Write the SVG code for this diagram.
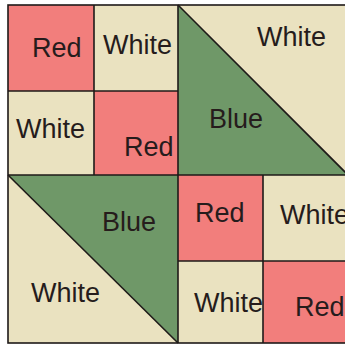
<svg xmlns="http://www.w3.org/2000/svg" width="345" height="345" viewBox="0 0 345 345">
<style>
.r{fill:#F27E7C}
.w{fill:#EAE2C0}
.g{fill:#6F9868}
.ln{stroke:#1e1a18;stroke-width:1.6;fill:none}
text{font-family:"Liberation Sans",Arial,sans-serif;font-size:27px;fill:#261c1c}
</style>
<rect width="345" height="345" fill="#ffffff"/>
<g id="tl-red1"><rect class="r" x="8" y="5" width="86" height="86"/><text x="32" y="57">Red</text></g>
<g id="tl-white1"><rect class="w" x="94" y="5" width="84" height="86"/><text x="103" y="54">White</text></g>
<g id="tl-white2"><rect class="w" x="8" y="91" width="86" height="84"/><text x="16" y="138">White</text></g>
<g id="tl-red2"><rect class="r" x="94" y="91" width="84" height="84"/><text x="124" y="156">Red</text></g>
<g id="tr-white"><rect class="w" x="178" y="5" width="170" height="170"/><text x="257" y="46">White</text></g>
<g id="tr-blue"><polygon class="g" points="178,5 178,175 348,175"/><text x="209" y="128">Blue</text></g>
<g id="bl-white"><rect class="w" x="8" y="175" width="170" height="168"/><text x="31" y="302">White</text></g>
<g id="bl-blue"><polygon class="g" points="8,175 178,175 178,343"/><text x="102" y="231">Blue</text></g>
<g id="br-red1"><rect class="r" x="178" y="175" width="85" height="86"/><text x="195" y="222">Red</text></g>
<g id="br-white1"><rect class="w" x="263" y="175" width="85" height="86"/><text x="280" y="224">White</text></g>
<g id="br-white2"><rect class="w" x="178" y="261" width="85" height="82"/><text x="194" y="312">White</text></g>
<g id="br-red2"><rect class="r" x="263" y="261" width="85" height="82"/><text x="295" y="316">Red</text></g>
<g id="connectors">
<rect class="ln" x="8" y="5" width="342" height="338"/>
<line class="ln" x1="178" y1="5" x2="178" y2="343"/>
<line class="ln" x1="8" y1="175" x2="348" y2="175"/>
<line class="ln" x1="94" y1="5" x2="94" y2="175"/>
<line class="ln" x1="8" y1="91" x2="178" y2="91"/>
<line class="ln" x1="263" y1="175" x2="263" y2="343"/>
<line class="ln" x1="178" y1="261" x2="348" y2="261"/>
<line class="ln" x1="178" y1="5" x2="348" y2="175"/>
<line class="ln" x1="8" y1="175" x2="178" y2="343"/>
</g>
</svg>
